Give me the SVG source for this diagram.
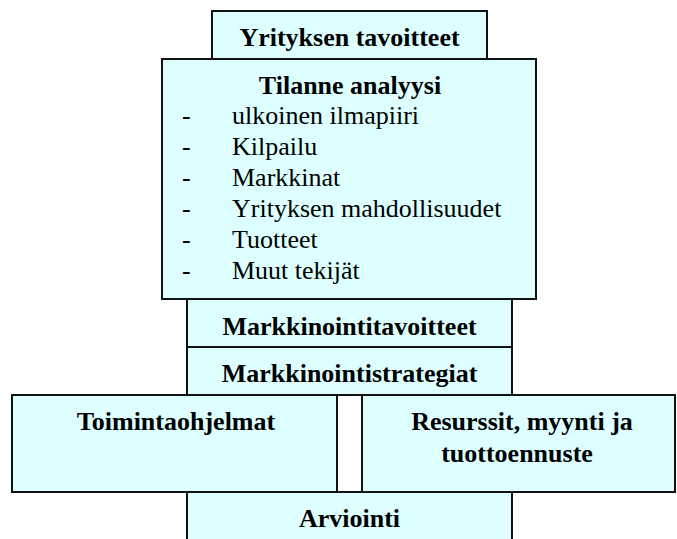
<svg xmlns="http://www.w3.org/2000/svg" width="677" height="539" viewBox="0 0 677 539">
  <style>
    .box { fill: #DDFFFF; stroke: #111; stroke-width: 2; }
    .t { font-family: "Liberation Serif", "Times New Roman", serif; font-size: 26px; fill: #000; }
    .b { font-weight: bold; text-anchor: middle; }
  </style>
  <rect width="677" height="539" fill="#fff"/>
  <!-- the boxes are stacked edge to edge; there are no separate connector lines -->
  <g id="connectors"></g>

  <g id="yrityksen-tavoitteet">
    <rect class="box" x="212" y="11" width="275" height="48"/>
    <text class="t b" x="349.5" y="46">Yrityksen tavoitteet</text>
  </g>

  <g id="tilanne-analyysi">
    <rect class="box" x="162" y="59" width="374" height="240"/>
    <text class="t b" x="350" y="94">Tilanne analyysi</text>
    <text class="t" x="182" y="124">-</text><text class="t" x="232" y="124">ulkoinen ilmapiiri</text>
    <text class="t" x="182" y="155">-</text><text class="t" x="232" y="155">Kilpailu</text>
    <text class="t" x="182" y="186">-</text><text class="t" x="232" y="186">Markkinat</text>
    <text class="t" x="182" y="217">-</text><text class="t" x="232" y="217">Yrityksen mahdollisuudet</text>
    <text class="t" x="182" y="248">-</text><text class="t" x="232" y="248">Tuotteet</text>
    <text class="t" x="182" y="279">-</text><text class="t" x="232" y="279">Muut tekijät</text>
  </g>

  <g id="markkinointitavoitteet">
    <rect class="box" x="187" y="299" width="325" height="48"/>
    <text class="t b" x="349.5" y="335">Markkinointitavoitteet</text>
  </g>

  <g id="markkinointistrategiat">
    <rect class="box" x="187" y="347" width="325" height="48"/>
    <text class="t b" x="349.5" y="382">Markkinointistrategiat</text>
  </g>

  <g id="toimintaohjelmat">
    <rect class="box" x="12" y="395" width="325" height="97"/>
    <text class="t b" x="176" y="430">Toimintaohjelmat</text>
  </g>

  <g id="resurssit">
    <rect class="box" x="362" y="395" width="313" height="97"/>
    <text class="t b" x="522" y="430">Resurssit, myynti ja</text>
    <text class="t b" x="517" y="462">tuottoennuste</text>
  </g>

  <g id="arviointi">
    <rect class="box" x="187" y="492" width="325" height="50"/>
    <text class="t b" x="349.5" y="527">Arviointi</text>
  </g>
</svg>
